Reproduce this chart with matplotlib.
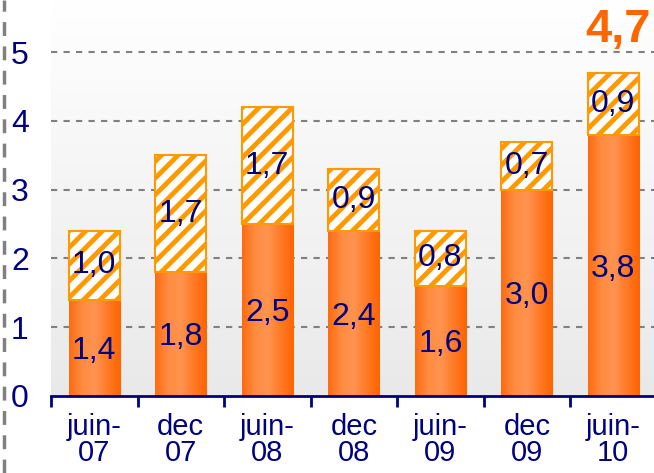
import matplotlib
matplotlib.use("Agg")
import matplotlib.pyplot as plt
import numpy as np
from matplotlib.colors import LinearSegmentedColormap

plt.rcParams['font.family'] = ['Liberation Sans', 'DejaVu Sans']
plt.rcParams['hatch.linewidth'] = 3.5
plt.rcParams['hatch.color'] = '#FF9900'

periods = ['juin-\n07', 'dec\n07', 'juin-\n08', 'dec\n08', 'juin-\n09', 'dec\n09', 'juin-\n10']
base = [1.4, 1.8, 2.5, 2.4, 1.6, 3.0, 3.8]
extra = [1.0, 1.7, 1.7, 0.9, 0.8, 0.7, 0.9]
total_label = '4,7'

navy = '#000080'
orange = '#FF6600'

fig = plt.figure(figsize=(6.54, 4.73), dpi=100)
ax = fig.add_axes([0.078, 0.163, 0.926, 0.837])

x = np.arange(len(base))
ax.set_xlim(-0.5, len(base) - 0.5)
ax.set_ylim(0, 5.76)

# background gradient, light grey at bottom to white at top
bg = np.linspace(0, 1, 256).reshape(-1, 1)
bg_cmap = LinearSegmentedColormap.from_list('bg', ['#E9E9E9', '#FFFFFF'])
ax.imshow(bg, extent=[-0.5, len(base) - 0.5, 0, 5.76], aspect='auto',
          cmap=bg_cmap, origin='lower', zorder=0)

for y in range(1, 6):
    ax.axhline(y, color='#808080', ls=(0, (3, 3)), lw=1.5, zorder=1)

# horizontal orange gradient for the solid bars
bar_cmap = LinearSegmentedColormap.from_list(
    'bar', ['#FF6A10', '#FF8C40', '#FF9450', '#FF7A25', '#FF6400'])
grad = np.linspace(0, 1, 256).reshape(1, -1)
w = 0.59
bars = ax.bar(x, base, width=w, color=orange, zorder=2)
for b in bars:
    im = ax.imshow(grad, extent=[b.get_x(), b.get_x() + w, 0, b.get_height()],
                   aspect='auto', cmap=bar_cmap, zorder=2.5)
    im.set_clip_path(b)

ax.bar(x, extra, bottom=base, width=w, color='white', edgecolor='#FF9900',
       hatch='//', lw=1.5, zorder=3)

for i in range(len(base)):
    ax.text(x[i], base[i] / 2 - 0.05, f'{base[i]:.1f}'.replace('.', ','),
            ha='center', va='center', color=navy, fontsize=23, zorder=4)
    ax.text(x[i], base[i] + extra[i] / 2, f'{extra[i]:.1f}'.replace('.', ','),
            ha='center', va='center', color=navy, fontsize=23, zorder=4)

ax.text(x[-1] + 0.05, base[-1] + extra[-1] + 0.3, total_label, ha='center', va='bottom',
        color=orange, fontsize=34, fontweight='bold', zorder=4)

ax.set_yticks(range(0, 6))
ax.tick_params(axis='y', length=0, pad=16, labelsize=23, labelcolor=navy)
ax.set_xticks(np.arange(-0.5, len(base), 1.0))
ax.set_xticklabels([])
ax.set_xticks(x, minor=True)
ax.set_xticklabels(periods, minor=True, fontsize=21, color=navy, linespacing=0.95)
ax.tick_params(axis='x', which='major', length=8, width=2, color=navy, direction='out')
ax.tick_params(axis='x', which='minor', length=0, pad=12)

for s in ['top', 'right', 'left']:
    ax.spines[s].set_visible(False)
ax.spines['bottom'].set_color(navy)
ax.spines['bottom'].set_linewidth(2)
ax.spines['bottom'].set_zorder(5)

fig.add_artist(plt.Line2D([0.006, 0.006], [0, 1], color='#808080', lw=2.5,
                          ls=(0, (4, 3)), transform=fig.transFigure))

fig.savefig('out.png', dpi=100)
